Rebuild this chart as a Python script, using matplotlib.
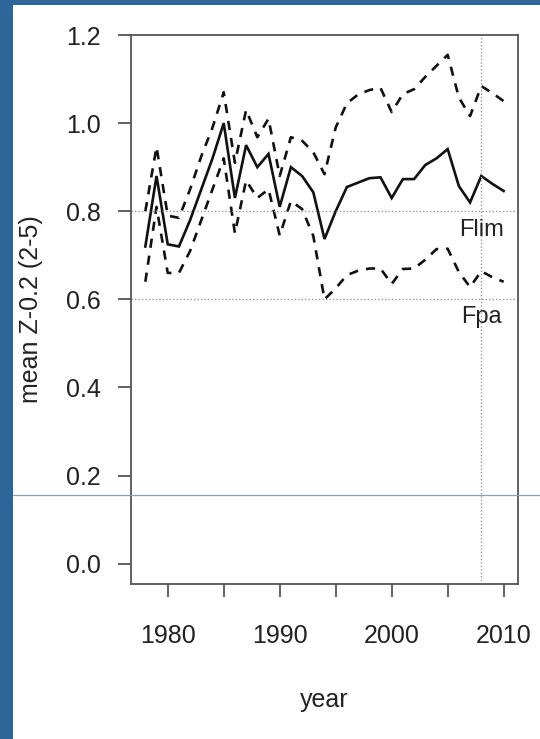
import matplotlib
matplotlib.use("Agg")
import matplotlib.pyplot as plt
from matplotlib.patches import Rectangle
from matplotlib.lines import Line2D

plt.rcParams['font.family'] = ['Liberation Sans', 'DejaVu Sans']

years = list(range(1978, 2011))
mean_z = [0.72, 0.88, 0.725, 0.72, 0.78, 0.85, 0.92, 1.00, 0.83, 0.95, 0.90, 0.93,
          0.81, 0.90, 0.88, 0.843, 0.737, 0.80, 0.855, 0.865, 0.875, 0.877, 0.83,
          0.873, 0.873, 0.905, 0.92, 0.941, 0.857, 0.82, 0.88, 0.862, 0.846]
upper = [0.80, 0.946, 0.79, 0.785, 0.85, 0.925, 0.99, 1.07, 0.91, 1.03, 0.968, 1.01,
         0.88, 0.968, 0.96, 0.934, 0.884, 0.99, 1.045, 1.065, 1.075, 1.08, 1.025,
         1.066, 1.077, 1.105, 1.13, 1.155, 1.058, 1.016, 1.084, 1.068, 1.05]
lower = [0.64, 0.81, 0.66, 0.66, 0.71, 0.78, 0.85, 0.92, 0.75, 0.87, 0.83, 0.85,
         0.745, 0.823, 0.805, 0.744, 0.60, 0.625, 0.655, 0.665, 0.67, 0.67, 0.635,
         0.669, 0.67, 0.69, 0.714, 0.715, 0.662, 0.628, 0.664, 0.65, 0.64]
flim = 0.8
fpa = 0.6
ref_year = 2008
xticks = [1980, 1985, 1990, 1995, 2000, 2005, 2010]
xticklabels = ['1980', '', '1990', '', '2000', '', '2010']
yticks = [0.0, 0.2, 0.4, 0.6, 0.8, 1.0, 1.2]

W, H = 540, 739
fig = plt.figure(figsize=(W / 100, H / 100), dpi=100)
fig.patch.set_facecolor('#2E6699')
# white slide panel behind the axes
fig.patches.append(Rectangle((13 / W, 0), 1, 1 - 5 / H, transform=fig.transFigure,
                             facecolor='white', edgecolor='none', zorder=-10))

ax = fig.add_axes([131 / W, 1 - 584 / H, (518 - 131) / W, (584 - 35) / H])
ax.set_facecolor('none')

txt = '#222222'
ax.plot(years, mean_z, color='#111111', lw=1.9, solid_joinstyle='miter')
ax.plot(years, upper, color='#111111', lw=1.9, dashes=(3.5, 3))
ax.plot(years, lower, color='#111111', lw=1.9, dashes=(3.5, 3))

for v in (flim, fpa):
    ax.axhline(v, color='#999999', lw=1.0, dashes=(1, 1.5))
ax.axvline(ref_year, color='#999999', lw=1.0, dashes=(1, 1.5))

ax.text(ref_year, 0.757, 'Flim', ha='center', va='center', fontsize=17, color=txt)
ax.text(ref_year, 0.56, 'Fpa', ha='center', va='center', fontsize=17, color=txt)

ax.set_xlim(1976.72, 2011.28)
ax.set_ylim(-0.046, 1.2)
ax.set_xticks(xticks)
ax.set_xticklabels(xticklabels)
ax.set_yticks(yticks)
ax.set_yticklabels([f'{t:.1f}' for t in yticks])

for s in ax.spines.values():
    s.set_color('#555555')
    s.set_linewidth(1.3)
ax.tick_params(axis='both', direction='out', length=9.5, width=1.3, color='#555555',
               labelsize=18, labelcolor=txt)
ax.tick_params(axis='x', pad=19)
ax.tick_params(axis='y', pad=12)

ax.set_xlabel('year', fontsize=18, color=txt)
ax.set_ylabel('mean Z-0.2 (2-5)', fontsize=18, color=txt)
ax.xaxis.set_label_coords(0.5, -0.19)
ax.yaxis.set_label_coords((43 - 131) / (518 - 131), 0.5)

# thin slide rule across the panel, on top of everything
fig.lines.append(Line2D([13 / W, 1], [1 - 495 / H, 1 - 495 / H], transform=fig.transFigure,
                        color='#8CA0BE', lw=0.9, zorder=5))

fig.savefig('out.png', dpi=100, facecolor=fig.get_facecolor())
